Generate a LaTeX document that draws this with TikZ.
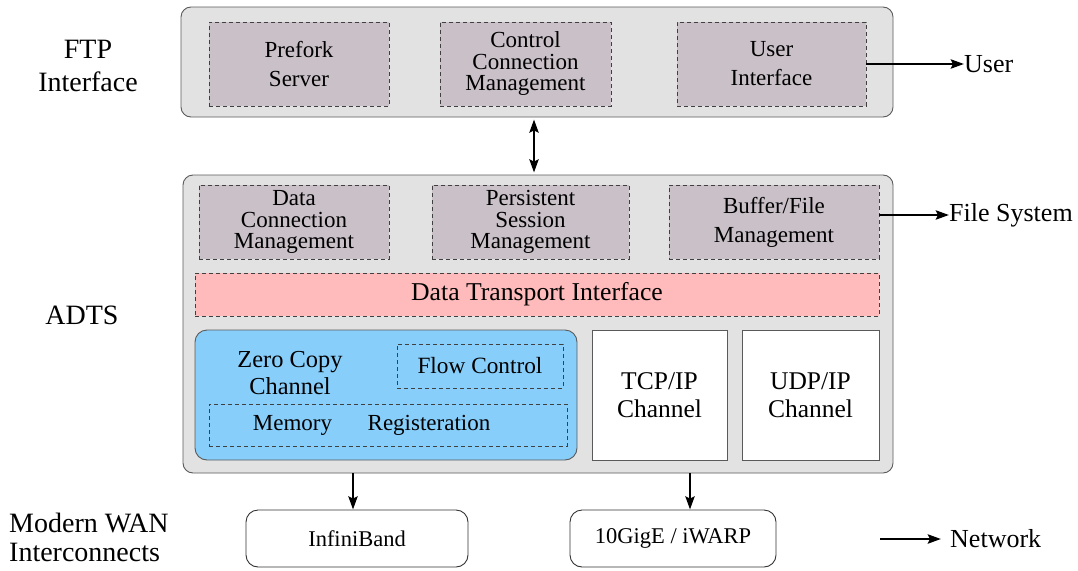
\documentclass[tikz,border=0pt]{standalone}
\usepackage{fontspec}
\setmainfont{Liberation Serif}
\newfontfamily\tms{Liberation Serif}
\usetikzlibrary{arrows.meta,calc}
\definecolor{outerfill}{RGB}{226,226,226}
\definecolor{outerdraw}{RGB}{90,90,90}
\definecolor{mauve}{RGB}{201,192,200}
\definecolor{pinkfill}{RGB}{255,187,187}
\definecolor{bluefill}{RGB}{135,206,250}
\tikzset{
  outerbox/.style={draw=outerdraw, fill=outerfill, line width=0.9pt, rounded corners=10pt, inner sep=0pt},
  dbox/.style={draw=black!75, dash pattern=on 4pt off 3pt, line width=0.7pt, inner sep=0pt, align=center},
  mbox/.style={dbox, fill=mauve},
  chbox/.style={draw=outerdraw, fill=white, line width=0.9pt, inner sep=0pt, align=center},
  netbox/.style={draw=black!80, fill=white, line width=0.9pt, rounded corners=12pt, inner sep=0pt, align=center},
  txt/.style={inner sep=0pt, align=center},
  sidelbl/.style={inner sep=0pt, align=center, font=\tms\fontsize{28}{33}\selectfont},
  sidelblL/.style={inner sep=0pt, align=left, font=\tms\fontsize{28}{29}\selectfont},
  arr/.style={line width=2.8pt, -{Stealth[length=13pt,width=9pt,inset=2pt]}},
  darr/.style={line width=2.8pt, {Stealth[length=13pt,width=9pt,inset=2pt]}-{Stealth[length=13pt,width=9pt,inset=2pt]}},
  threel/.style={font=\tms\fontsize{23}{21.5}\selectfont},
  twol/.style={font=\tms\fontsize{23}{29}\selectfont}
}
\begin{document}
\begin{tikzpicture}[x=1pt,y=-1pt]
\useasboundingbox (0,0) rectangle (1078,570);
% FTP interface
\node[outerbox, minimum width=712pt, minimum height=110pt] (ftp) at (537,62) {};
\node[mbox, twol, minimum width=180pt, minimum height=84pt] (prefork) at (299,64) {Prefork\\Server};
\node[mbox, threel, minimum width=171pt, minimum height=84pt] (ccm) at (525.5,64) {Control\\Connection\\Management};
\node[mbox, twol, minimum width=189pt, minimum height=84pt] (ui) at (771.5,64) {User\\Interface};
\node[sidelbl] (ftplbl) at (88,66) {FTP\\Interface};
\node[txt, anchor=west, font=\tms\fontsize{26}{30}\selectfont] (user) at (964,64) {User};
\draw[arr] (ui.east) -- (user.west);

% ADTS
\node[outerbox, minimum width=710pt, minimum height=298pt] (adts) at (538,324) {};
\node[mbox, threel, minimum width=190pt, minimum height=74pt] (dcm) at (294,222) {Data\\Connection\\Management};
\node[mbox, threel, minimum width=197pt, minimum height=74pt] (psm) at (530.5,222) {Persistent\\Session\\Management};
\node[mbox, twol, minimum width=210pt, minimum height=74pt] (bfm) at (774,222) {Buffer/File\\Management};
\node[dbox, fill=pinkfill, minimum width=684pt, minimum height=43pt, font=\tms\fontsize{25.7}{30}\selectfont] (dti) at (537,294.5) {Data Transport Interface};
\node[draw=outerdraw, fill=bluefill, line width=0.9pt, rounded corners=12pt, minimum width=382pt, minimum height=130pt, inner sep=0pt] (zcc) at (386,395) {};
\node[txt, font=\tms\fontsize{24.4}{27}\selectfont] (zcclbl) at (290,373) {Zero Copy\\Channel};
\node[dbox, minimum width=166pt, minimum height=44pt, font=\tms\fontsize{23.3}{27}\selectfont] (flow) at (480,366) {Flow Control};
\node[dbox, minimum width=358pt, minimum height=42pt] (mem) at (388,425) {};
\node[txt, font=\tms\fontsize{23}{27}\selectfont] (memlbl) at (292.5,425) {Memory};
\node[txt, font=\tms\fontsize{23}{27}\selectfont] (reglbl) at (429,425) {Registeration};
\node[chbox, minimum width=135pt, minimum height=130pt, font=\tms\fontsize{25.5}{28}\selectfont] (tcp) at (659.5,395) {TCP/IP\\Channel};
\node[chbox, minimum width=137pt, minimum height=130pt, font=\tms\fontsize{25.5}{28}\selectfont] (udp) at (810.5,395) {UDP/IP\\Channel};
\node[sidelbl] (adtslbl) at (82,315) {ADTS};
\node[txt, anchor=west, font=\tms\fontsize{26}{30}\selectfont] (fs) at (949,215) {File System};
\draw[arr] (bfm.east |- fs.west) -- (fs.west);

% double arrow
\coordinate (dx) at (534,0);
\draw[darr, shorten <=2pt, shorten >=2pt] (dx |- ftp.south) -- (dx |- adts.north);

% Networks
\node[netbox, minimum width=222pt, minimum height=57pt, font=\tms\fontsize{22.5}{26}\selectfont] (ib) at (357,538.5) {InfiniBand};
\node[netbox, minimum width=206pt, minimum height=57pt, font=\tms\fontsize{22.5}{26}\selectfont] (gige) at (673,538.5) {10GigE / iWARP};
\coordinate (d1) at (353,0);
\coordinate (d2) at (690,0);
\draw[arr] (d1 |- adts.south) -- (d1 |- ib.north);
\draw[arr] (d2 |- adts.south) -- (d2 |- gige.north);
\node[sidelblL, anchor=west] (wanlbl) at (9,537) {Modern WAN\\Interconnects};
\node[txt, anchor=west, font=\tms\fontsize{26}{30}\selectfont] (net) at (950,539) {Network};
\coordinate (nstart) at (880,539);
\draw[arr, shorten >=9pt] (nstart) -- (net.west);
\end{tikzpicture}
\end{document}
